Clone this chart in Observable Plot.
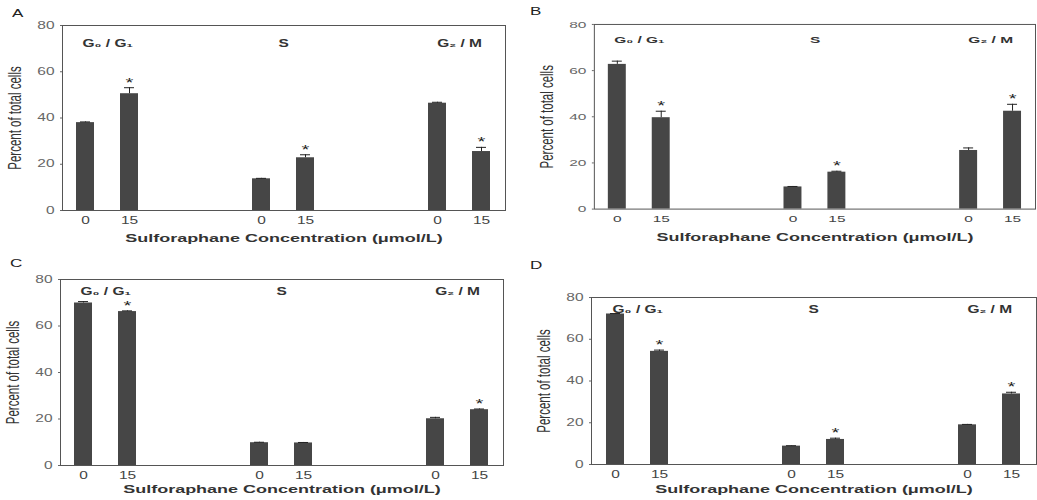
<!DOCTYPE html>
<html>
<head>
<meta charset="utf-8">
<script src="https://cdn.jsdelivr.net/npm/d3@7"></script>
<script src="https://cdn.jsdelivr.net/npm/@observablehq/plot@0.6"></script>
<style>
  html, body { margin: 0; padding: 0; background: #fff; }
  body { width: 1037px; height: 500px; overflow: hidden; position: relative; font-family: "Liberation Sans", Arial, sans-serif; }
  .panel { position: absolute; }
  .panel svg { display: block; overflow: visible; }
  .letter { position: absolute; font: 11px "Liberation Sans", Arial, sans-serif; color: #222; transform: scaleX(1.55); transform-origin: left center; line-height: 1; }
</style>
</head>
<body>
<script>
// ---------- data ----------
const phases = ["G₀ / G₁", "S", "G₂ / M"];
const doses = ["0", "15"];
const panelIds = ["A", "B", "C", "D"];
const yTicks = [0, 20, 40, 60, 80];
const xTitle = "Sulforaphane Concentration (μmol/L)";
const yTitle = "Percent of total cells";

// values in order: G0/G1 (0, 15), S (0, 15), G2/M (0, 15)
const valuesA = [38.0, 50.5, 13.7, 22.8, 46.4, 25.5];
const errorsA = [0.3, 2.6, 0.2, 1.3, 0.4, 1.8];
const starsA  = [false, true, false, true, false, true];

const valuesB = [62.7, 39.6, 9.6, 16.0, 25.4, 42.4];
const errorsB = [1.4, 2.8, 0.2, 0.4, 1.1, 3.0];
const starsB  = [false, true, false, true, false, true];

const valuesC = [69.9, 66.2, 9.8, 9.7, 20.1, 24.0];
const errorsC = [0.6, 0.3, 0.2, 0.2, 0.6, 0.3];
const starsC  = [false, true, false, false, false, true];

const valuesD = [72.1, 54.2, 8.8, 12.0, 19.0, 33.8];
const errorsD = [0.2, 0.6, 0.2, 0.6, 0.2, 0.8];
const starsD  = [false, true, false, true, false, true];

// ---------- layout (not data) ----------
const layout = {
  A: {left: 0,   top: 0,   width: 520, height: 250, mt: 25, mr: 15, mb: 40, ml: 62, groupDy: 18, titleDy: 28, lx: 12,  ly: 8},
  B: {left: 520, top: 0,   width: 518, height: 250, mt: 24, mr: 2,  mb: 41, ml: 74, groupDy: 15, titleDy: 28, lx: 530, ly: 6},
  C: {left: 0,   top: 250, width: 520, height: 250, mt: 29, mr: 17, mb: 35, ml: 60, groupDy: 12, titleDy: 24, lx: 10,  ly: 258},
  D: {left: 520, top: 250, width: 517, height: 250, mt: 47, mr: 1,  mb: 36, ml: 71, groupDy: 12, titleDy: 25, lx: 530, ly: 260}
};
const STRETCH = 1.55;

const series = {
  A: [valuesA, errorsA, starsA],
  B: [valuesB, errorsB, starsB],
  C: [valuesC, errorsC, starsC],
  D: [valuesD, errorsD, starsD]
};

function buildRows(values, errors, stars) {
  return values.map((v, i) => ({
    phase: phases[Math.floor(i / 2)],
    dose: doses[i % 2],
    slot: Math.floor(i / 2) * 4 + (i % 2),
    value: v,
    top: v + errors[i],
    star: stars[i]
  }));
}

function stretchText(svg, s) {
  svg.querySelectorAll("text").forEach(t => {
    const tr = t.getAttribute("transform");
    if (tr && /^\s*translate\(/.test(tr)) {
      const i = tr.indexOf(")") + 1;
      t.setAttribute("transform", tr.slice(0, i) + ` scale(${s},1)` + tr.slice(i));
    } else {
      const x = parseFloat(t.getAttribute("x")) || 0;
      const y = parseFloat(t.getAttribute("y")) || 0;
      t.setAttribute("transform", `translate(${x},${y}) scale(${s},1) translate(${-x},${-y})` + (tr ? " " + tr : ""));
    }
  });
}

const slots = d3.range(10);

for (const id of panelIds) {
  const L = layout[id];
  const rows = buildRows(...series[id]);
  const step = (L.width - L.ml - L.mr) / slots.length;
  const groups = rows.filter(d => d.dose === doses[0]);

  const svg = Plot.plot({
    width: L.width,
    height: L.height,
    marginTop: L.mt,
    marginRight: L.mr,
    marginBottom: L.mb,
    marginLeft: L.ml,
    style: {fontFamily: "'Liberation Sans', Arial, sans-serif", background: "transparent", color: "#333"},
    x: {type: "band", domain: slots, paddingInner: 0.59, paddingOuter: 0.295, axis: null},
    y: {domain: [0, 80], axis: null},
    marks: [
      Plot.rectY(rows, {x: "slot", y: "value", fill: "#464646"}),
      Plot.frame({stroke: "#555", strokeWidth: 1}),
      Plot.ruleX(rows, {x: "slot", y1: "value", y2: "top", stroke: "#222", strokeWidth: 1}),
      Plot.tickY(rows, {x: "slot", y: "top", insetLeft: 4, insetRight: 4, stroke: "#222", strokeWidth: 1}),
      Plot.text(rows.filter(d => d.star), {x: "slot", y: "top", text: () => "*", lineAnchor: "bottom", dy: -1, fontSize: 13, fill: "#222"}),
      Plot.axisX({ticks: rows.map(d => d.slot), tickFormat: s => rows.find(d => d.slot === s).dose, tickSize: 0, tickPadding: 6, fontSize: 10, label: null, color: "#444"}),
      Plot.axisY({ticks: yTicks, tickSize: 2, tickPadding: 6, fontSize: 10, label: null, color: "#666"}),
      Plot.text(groups, {x: "slot", text: "phase", frameAnchor: "top", dy: L.groupDy, dx: step / 2, lineAnchor: "middle", fontSize: 10, fontWeight: "bold", fill: "#333"}),
      Plot.text([xTitle], {frameAnchor: "bottom", dy: L.titleDy, lineAnchor: "middle", fontSize: 11.6, fontWeight: "bold", fill: "#333"}),
      Plot.text([yTitle], {frameAnchor: "left", textAnchor: "middle", dx: -47, rotate: -90, lineAnchor: "middle", fontSize: 11.5, fill: "#333"})
    ]
  });
  stretchText(svg, STRETCH);

  const div = document.createElement("div");
  div.className = "panel";
  div.style.left = L.left + "px";
  div.style.top = L.top + "px";
  div.appendChild(svg);
  document.body.appendChild(div);

  const letter = document.createElement("div");
  letter.className = "letter";
  letter.style.left = L.lx + "px";
  letter.style.top = L.ly + "px";
  letter.textContent = id;
  document.body.appendChild(letter);
}
</script>
</body>
</html>
